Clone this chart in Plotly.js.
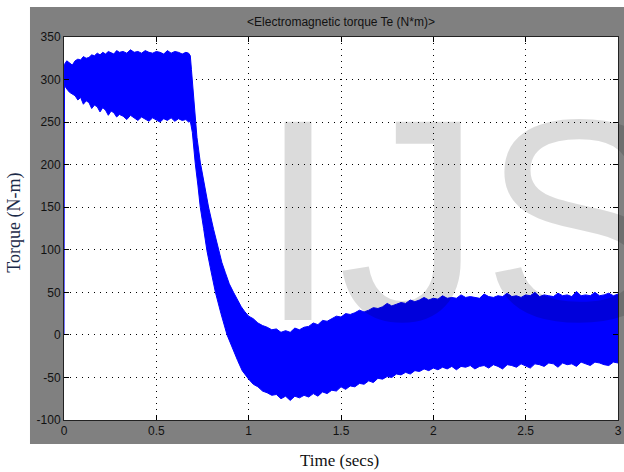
<!DOCTYPE html>
<html>
<head>
<meta charset="utf-8">
<script src="https://cdn.plot.ly/plotly-3.0.1.min.js"></script>
<style>html,body{margin:0;padding:0;background:#fff;}#chart{width:624px;height:472px;}</style>
</head>
<body>
<div id="chart"></div>
<script>
// Upper envelope of the torque band (time in s, torque in N·m)
const timeUpper = [
  0, 0.003, 0.015, 0.03, 0.045, 0.06, 0.075, 0.09, 0.105, 0.12,
  0.135, 0.15, 0.165, 0.18, 0.195, 0.21, 0.225, 0.24, 0.255, 0.27,
  0.285, 0.3, 0.32, 0.34, 0.36, 0.38, 0.4, 0.42, 0.44, 0.46,
  0.48, 0.5, 0.52, 0.54, 0.56, 0.58, 0.6, 0.62, 0.64, 0.66,
  0.675, 0.684,
  0.69, 0.70, 0.71, 0.72, 0.738, 0.76, 0.783, 0.81, 0.837, 0.855,
  0.874, 0.895, 0.918, 0.94, 0.96, 0.98,
  1.0, 1.025, 1.05, 1.075, 1.1, 1.125, 1.15, 1.175, 1.2, 1.225,
  1.25, 1.275, 1.3, 1.325, 1.35, 1.375, 1.4, 1.425, 1.45, 1.475,
  1.5, 1.525, 1.55, 1.575, 1.6, 1.625, 1.65, 1.675, 1.7, 1.725,
  1.75, 1.775, 1.8, 1.825, 1.85, 1.875, 1.9, 1.925, 1.95, 1.975,
  2.0, 2.025, 2.05, 2.075, 2.1, 2.125, 2.15, 2.175, 2.2, 2.225,
  2.25, 2.275, 2.3, 2.325, 2.35, 2.375, 2.4, 2.425, 2.45, 2.475,
  2.5, 2.525, 2.55, 2.575, 2.6, 2.625, 2.65, 2.675, 2.7, 2.725,
  2.75, 2.775, 2.8, 2.825, 2.85, 2.875, 2.9, 2.925, 2.95, 2.975,
  3.0];
const torqueUpper = [
  0, 318, 322, 320, 317, 322, 324, 323, 327, 325,
  326, 329, 328, 331, 329, 332, 330, 333, 331, 330,
  334, 332, 333, 331, 335, 332, 333, 331, 334, 332,
  331, 333, 332, 330, 334, 331, 333, 332, 330, 332,
  331, 328,
  312, 283, 254, 232, 203, 176, 150, 124, 100, 85,
  73, 60, 50, 41, 33, 27,
  22, 19, 14, 11, 9, 6, 7, 3, 5, 3,
  8, 6, 9, 10, 14, 12, 17, 16, 19, 22,
  21, 25, 24, 26, 29, 27, 29, 32, 31, 33,
  37, 34, 36, 38, 37, 41, 39, 41, 44, 41,
  43, 42, 46, 43, 44, 43, 47, 44, 45, 44,
  43, 48, 45, 44, 46, 45, 49, 45, 46, 44,
  47, 46, 50, 45, 47, 46, 45, 49, 46, 47,
  45, 51, 46, 47, 46, 50, 46, 47, 49, 46,
  48];

// Lower envelope of the torque band
const timeLower = [
  0.003, 0.015, 0.03, 0.045, 0.06, 0.075, 0.09, 0.105, 0.12, 0.135,
  0.15, 0.165, 0.18, 0.195, 0.21, 0.225, 0.24, 0.255, 0.27, 0.285,
  0.3, 0.32, 0.34, 0.36, 0.38, 0.4, 0.42, 0.44, 0.46, 0.48,
  0.5, 0.52, 0.54, 0.56, 0.58, 0.6, 0.62, 0.64, 0.66, 0.675,
  0.684,
  0.695, 0.711, 0.725, 0.738, 0.756, 0.774, 0.796, 0.82, 0.85, 0.883,
  0.91, 0.94, 0.965,
  1.0, 1.025, 1.05, 1.075, 1.1, 1.125, 1.15, 1.175, 1.2, 1.225,
  1.25, 1.275, 1.3, 1.325, 1.35, 1.375, 1.4, 1.425, 1.45, 1.475,
  1.5, 1.525, 1.55, 1.575, 1.6, 1.625, 1.65, 1.675, 1.7, 1.725,
  1.75, 1.775, 1.8, 1.825, 1.85, 1.875, 1.9, 1.925, 1.95, 1.975,
  2.0, 2.025, 2.05, 2.075, 2.1, 2.125, 2.15, 2.175, 2.2, 2.225,
  2.25, 2.275, 2.3, 2.325, 2.35, 2.375, 2.4, 2.425, 2.45, 2.475,
  2.5, 2.525, 2.55, 2.575, 2.6, 2.625, 2.65, 2.675, 2.7, 2.725,
  2.75, 2.775, 2.8, 2.825, 2.85, 2.875, 2.9, 2.925, 2.95, 2.975,
  3.0];
const torqueLower = [
  293, 289, 285, 283, 281, 276, 279, 271, 275, 273,
  266, 270, 268, 262, 267, 264, 258, 263, 261, 256,
  259, 257, 253, 258, 255, 252, 256, 254, 251, 255,
  253, 250, 254, 252, 255, 251, 254, 252, 253, 250,
  251,
  238, 201, 176, 150, 125, 99, 75, 50, 25, 0,
  -15, -30, -42,
  -52, -58, -61, -66, -68, -71, -70, -75, -72, -77,
  -72, -74, -71, -73, -69, -72, -67, -69, -65, -66,
  -61, -64, -60, -61, -57, -58, -54, -56, -51, -52,
  -49, -50, -46, -47, -44, -46, -42, -43, -40, -42,
  -39, -41, -38, -40, -37, -41, -37, -38, -36, -40,
  -37, -36, -39, -35, -37, -40, -35, -36, -38, -34,
  -36, -39, -34, -35, -37, -33, -34, -38, -33, -35,
  -34, -37, -32, -34, -36, -32, -33, -35, -36, -32,
  -33];

const xTicks = [0, 0.5, 1, 1.5, 2, 2.5, 3];
const xTickLabels = ['0', '0.5', '1', '1.5', '2', '2.5', '3'];
const yTicks = [-100, -50, 0, 50, 100, 150, 200, 250, 300, 350];
const yTickLabels = ['-100', '-50', '0', '50', '100', '150', '200', '250', '300', '350'];

const bandX = timeUpper.concat(timeLower.slice().reverse());
const bandY = torqueUpper.concat(torqueLower.slice().reverse());

const trace = {
  x: bandX, y: bandY, type: 'scatter', mode: 'lines',
  fill: 'toself', fillcolor: '#0000ff',
  line: {color: '#0000ff', width: 1},
  hoverinfo: 'skip', showlegend: false
};

const axisCommon = {
  showgrid: true, gridcolor: '#000', gridwidth: 1, griddash: '1px,5px',
  ticks: 'inside', ticklen: 5, tickwidth: 1, tickcolor: '#000',
  showline: true, linecolor: '#222', linewidth: 1, mirror: 'ticks',
  zeroline: false, tickmode: 'array',
  tickfont: {family: 'Liberation Sans, Arial, sans-serif', size: 12, color: '#111'}
};

const layout = {
  width: 624, height: 472,
  margin: {l: 64, r: 6, t: 37, b: 52, pad: 0},
  paper_bgcolor: '#ffffff', plot_bgcolor: 'rgba(0,0,0,0)',
  title: {
    text: '&lt;Electromagnetic torque Te (N*m)&gt;',
    font: {family: 'Liberation Sans, Arial, sans-serif', size: 12, color: '#111'},
    x: 0.5465, xanchor: 'center', xref: 'container',
    y: 0.9534, yanchor: 'middle', yref: 'container'
  },
  xaxis: Object.assign({}, axisCommon, {range: [0, 3], tickvals: xTicks, ticktext: xTickLabels}),
  yaxis: Object.assign({}, axisCommon, {range: [-100, 350], tickvals: yTicks, ticktext: yTickLabels}),
  shapes: [
    {type: 'rect', xref: 'paper', yref: 'paper', x0: -0.0614, x1: 1.02, y0: -0.0627, y1: 1.0783,
     fillcolor: '#808080', line: {width: 0}, layer: 'below'},
    {type: 'rect', xref: 'paper', yref: 'paper', x0: 0, x1: 1, y0: 0, y1: 1,
     fillcolor: '#ffffff', line: {width: 0}, layer: 'below'}
  ],
  annotations: [
    {text: 'IJS', xref: 'paper', yref: 'paper', x: 0.3466, y: 0.522, xanchor: 'left', yanchor: 'middle',
     showarrow: false, font: {family: 'Liberation Sans, Arial, sans-serif', size: 288, color: 'rgba(0,0,0,0.14)'}},
    {text: 'Torque (N-m)', xref: 'paper', yref: 'paper', x: -0.0884, y: 0.515, xanchor: 'center', yanchor: 'middle',
     textangle: -90, showarrow: false, font: {family: 'Liberation Serif, Times New Roman, serif', size: 18, color: '#1c2a48'}},
    {text: 'Time (secs)', xref: 'paper', yref: 'paper', x: 0.498, y: -0.107, xanchor: 'center', yanchor: 'middle',
     showarrow: false, font: {family: 'Liberation Serif, Times New Roman, serif', size: 17, color: '#111'}}
  ]
};

Plotly.newPlot('chart', [trace], layout, {displayModeBar: false, staticPlot: true});
</script>
</body>
</html>
